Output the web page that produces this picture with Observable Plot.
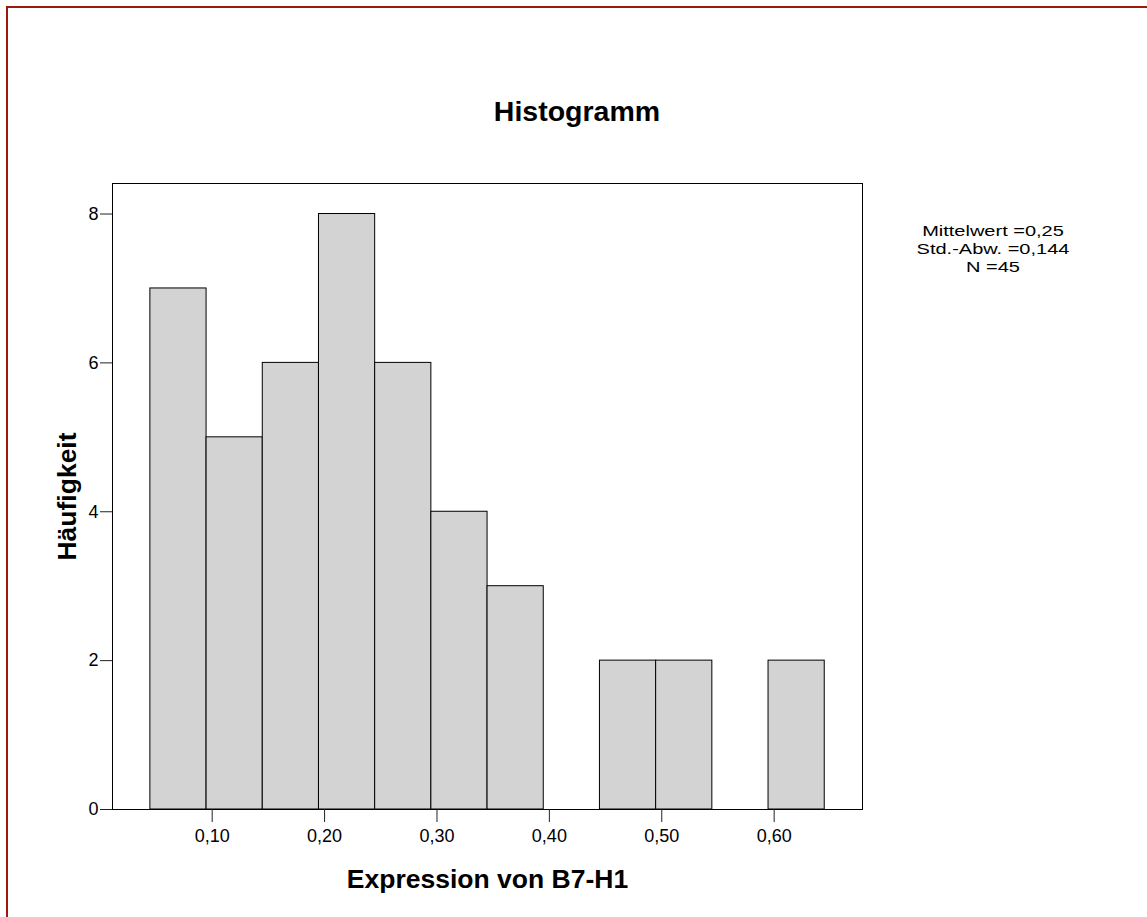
<!DOCTYPE html>
<html><head><meta charset="utf-8">
<script src="https://cdn.jsdelivr.net/npm/d3@7"></script>
<script src="https://cdn.jsdelivr.net/npm/@observablehq/plot@0.6"></script>
<style>
html,body{margin:0;padding:0;background:#fff;}
#page{position:relative;width:1147px;height:917px;overflow:hidden;font-family:"Liberation Sans",Arial,sans-serif;color:#000;}
#border{position:absolute;left:6px;top:6px;width:1300px;height:1100px;border-left:2px solid #9b1b0b;border-top:2px solid #9b1b0b;}
#chart{position:absolute;left:0;top:0;}
#title{position:absolute;left:0;width:1154px;top:97px;text-align:center;font-weight:bold;font-size:28.5px;line-height:28px;}
#stats{position:absolute;left:893px;width:200px;top:222px;text-align:center;font-size:15.5px;line-height:17.9px;transform:scaleX(1.29);transform-origin:50% 0;}
#stats div{white-space:nowrap;}
</style></head>
<body><div id="page"><div id="border"></div><div id="chart"></div><div id="title"></div><div id="stats"></div></div>
<script>
const title = "Histogramm";
const xLabel = "Expression von B7-H1";
const yLabel = "Häufigkeit";
const binStarts = [0.045,0.095,0.145,0.195,0.245,0.295,0.345,0.395,0.445,0.495,0.545,0.595];
const binEnds   = [0.095,0.145,0.195,0.245,0.295,0.345,0.395,0.445,0.495,0.545,0.595,0.645];
const counts    = [7,5,6,8,6,4,3,0,2,2,0,2];
const xTicks = [0.1,0.2,0.3,0.4,0.5,0.6];
const yTicks = [0,2,4,6,8];
const statsLines = ["Mittelwert =0,25","Std.-Abw. =0,144","N =45"];

const bins = binStarts.map((s,i)=>({x1:s,x2:binEnds[i],count:counts[i]})).filter(d=>d.count>0);
const fmt = v => v.toFixed(2).replace(".", ",");

document.getElementById("title").textContent = title;
const statsEl = document.getElementById("stats");
statsLines.forEach(t => { const d = document.createElement("div"); d.textContent = t; statsEl.appendChild(d); });

const chart = Plot.plot({
  width: 1147, height: 917,
  marginLeft: 112, marginRight: 285, marginTop: 183, marginBottom: 108,
  style: {fontFamily: '"Liberation Sans", Arial, sans-serif', background: "transparent", color: "#000"},
  x: {domain: [0.0113, 0.6786]},
  y: {domain: [0, 8.41]},
  marks: [
    Plot.rectY(bins, {x1:"x1", x2:"x2", y:"count", fill:"#d3d3d3", stroke:"#000", strokeWidth:1, inset:0}),
    Plot.frame({stroke:"#000", strokeWidth:1}),
    Plot.axisX({ticks: xTicks, tickFormat: fmt, tickSize: 13, tickPadding: 7, fontSize: 18, label: null, stroke:"#222"}),
    Plot.axisY({ticks: yTicks, tickFormat: d=>String(d), tickSize: 12, tickPadding: 2, fontSize: 18, label: null, stroke:"#222"}),
    Plot.text([xLabel], {text: d=>d, frameAnchor: "bottom", textAnchor: "middle", lineAnchor: "bottom", dy: 78, fontSize: 26.5, fontWeight: "bold", fill:"#000"}),
    Plot.text([yLabel], {text: d=>d, frameAnchor: "left", textAnchor: "middle", lineAnchor: "bottom", rotate: -90, dx: -37, fontSize: 26.5, fontWeight: "bold", fill:"#000"})
  ]
});
document.getElementById("chart").appendChild(chart);
</script></body></html>
